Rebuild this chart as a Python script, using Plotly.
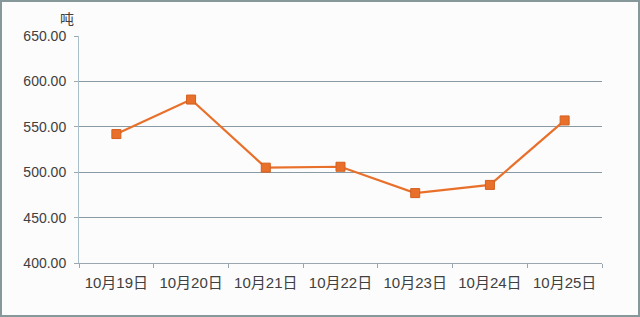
import plotly.graph_objects as go

categories = ["10月19日", "10月20日", "10月21日", "10月22日", "10月23日", "10月24日", "10月25日"]
values = [542, 580, 505, 506, 477, 486, 557]
y_ticks = [400, 450, 500, 550, 600, 650]
y_tick_labels = ["400.00", "450.00", "500.00", "550.00", "600.00", "650.00"]
unit_label = "吨"

W, H = 640, 317
ml, mr, mt, mb = 79, 38, 36, 54
pw, ph = W - ml - mr, H - mt - mb

font_family = "Liberation Sans, Noto Sans CJK SC, sans-serif"

fig = go.Figure()
fig.add_trace(go.Scatter(
    x=categories, y=values, mode="lines+markers",
    line=dict(color="#E8702A", width=2.2),
    marker=dict(symbol="square", size=9, color="#E8702A",
                line=dict(color="#D45F1E", width=1)),
    showlegend=False,
))

fig.update_layout(
    width=W, height=H,
    margin=dict(l=ml, r=mr, t=mt, b=mb),
    paper_bgcolor="#fcfcfc",
    plot_bgcolor="#fcfcfc",
    font=dict(family=font_family, size=13, color="#404040"),
    xaxis=dict(
        type="category",
        tickson="boundaries",
        ticks="outside", ticklen=4, tickcolor="#9aa6b0",
        ticklabelstandoff=6,
        showgrid=False,
        showline=True, linecolor="#9aa6b0", linewidth=1,
        tickfont=dict(size=15, color="#404040"),
        range=[-0.5, 6.5],
    ),
    yaxis=dict(
        range=[400, 650],
        tickvals=y_ticks, ticktext=y_tick_labels,
        ticks="outside", ticklen=4, tickcolor="#9aa6b0",
        ticklabelstandoff=5,
        showgrid=True, gridcolor="#8a9aa4", gridwidth=1,
        showline=True, linecolor="#a9c0cc", linewidth=1,
        zeroline=False,
        tickfont=dict(size=14, color="#404040"),
    ),
    annotations=[dict(
        text=unit_label, xref="paper", yref="paper",
        x=-12 / pw, y=1 + 17 / ph, xanchor="center", yanchor="middle",
        showarrow=False, font=dict(size=14, color="#404040"),
    )],
    shapes=[dict(
        type="rect", xref="paper", yref="paper",
        x0=-(ml - 1) / pw, x1=1 + (mr - 1) / pw,
        y0=-(mb - 1) / ph, y1=1 + (mt - 1) / ph,
        line=dict(color="#869899", width=2), layer="below",
    )],
)

fig.write_html("out.html")
